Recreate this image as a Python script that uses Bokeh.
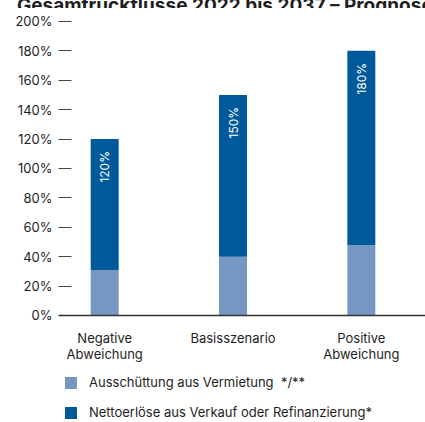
from bokeh.plotting import figure
from bokeh.layouts import column
from bokeh.models import (Range1d, FixedTicker, Legend, LegendItem, Div,
                          ColumnDataSource, LabelSet, Span)
from bokeh.core.properties import value
from bokeh.embed import file_html
from bokeh.resources import INLINE

# ---- data ----
categories = ["Negative\nAbweichung", "Basisszenario", "Positive\nAbweichung"]
ausschuettung = [31, 40, 48]          # Ausschüttung aus Vermietung (%)
nettoerloese = [89, 110, 132]         # Nettoerlöse aus Verkauf oder Refinanzierung (%)
totals = [120, 150, 180]
total_labels = ["120%", "150%", "180%"]
y_ticks = [0, 20, 40, 60, 80, 100, 120, 140, 160, 180, 200]
series_names = ["Ausschüttung aus Vermietung  */**",
                "Nettoerlöse aus Verkauf oder Refinanzierung*"]
title_text = "Gesamtrückflüsse 2022 bis 2037 – Prognose"

LIGHT = "#7597c1"
DARK = "#00599a"
TXT = "#1e1e1e"
FONT = "Inter"

xs = list(range(len(categories)))
src = ColumnDataSource(dict(x=xs, a=ausschuettung, n=nettoerloese,
                            t=totals, tl=total_labels,
                            base=[0] * len(xs), cat=categories))

p = figure(width=425, height=414, output_backend="svg", toolbar_location=None,
           x_range=Range1d(-0.36, 2.5), y_range=Range1d(-72.8, 208.8),
           x_axis_location=None,
           min_border_left=58, min_border_right=0, min_border_top=0,
           min_border_bottom=0, margin=0)
p.outline_line_color = None
p.grid.grid_line_color = None
p.background_fill_color = "white"

renderers = p.vbar_stack(["a", "n"], x="x", width=0.218, source=src,
                         color=[LIGHT, DARK], line_color=None)

# baseline (x axis line)
p.add_layout(Span(location=0, dimension="width", line_color="#333333",
                  line_width=1.5))

# category labels under the baseline
p.text(x="x", y="base", text="cat", source=src, text_align="center",
       text_baseline="top", y_offset=15, text_font=value(FONT),
       text_font_size="13px", text_color=TXT, text_line_height=1.0)

labels = LabelSet(x="x", y="t", text="tl", source=src, angle=1.5708,
                  text_align="right", text_baseline="middle", y_offset=-12,
                  text_color="white", text_font=value(FONT), text_font_size="12px")
p.add_layout(labels)

# y axis
ya = p.yaxis[0]
ya.ticker = FixedTicker(ticks=y_ticks)
ya.major_label_overrides = {v: f"{v}%" for v in y_ticks}
ya.axis_line_color = None
ya.major_tick_in = 13
ya.major_tick_out = 0
ya.major_tick_line_color = "#444444"
ya.minor_tick_line_color = None
ya.major_label_standoff = 6
ya.major_label_text_font = FONT
ya.major_label_text_font_size = "13px"
ya.major_label_text_color = TXT

legend = Legend(items=[LegendItem(label=series_names[0], renderers=[renderers[0]]),
                       LegendItem(label=series_names[1], renderers=[renderers[1]])],
                location=(5, 2), padding=0, margin=0,
                border_line_color=None, background_fill_alpha=0,
                glyph_width=15, glyph_height=15, label_height=15,
                spacing=14, label_standoff=11,
                label_text_font=FONT, label_text_font_size="13px",
                label_text_color=TXT)
p.add_layout(legend, "center")

# title, cut off at the top of the page as in the reference
title = Div(text=(f'<div style="font-family: Inter; font-weight: bold; '
                  f'font-size: 19px; line-height: 19px; white-space: nowrap; '
                  f'margin-top: -9px; margin-left: 17px; color: {TXT};">'
                  f'{title_text}</div>'),
            width=425, height=8, margin=0, styles={"overflow": "hidden"})

open("out.html", "w").write(file_html(column(title, p, spacing=0), INLINE))
